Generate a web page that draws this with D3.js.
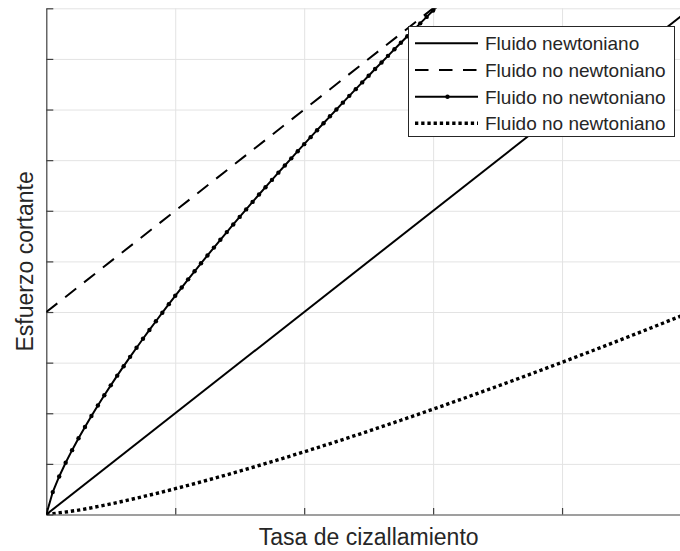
<!DOCTYPE html>
<html>
<head>
<meta charset="utf-8">
<script src="https://cdn.jsdelivr.net/npm/d3@7"></script>
<style>
  html, body { margin: 0; padding: 0; background: #ffffff; }
  svg { display: block; }
  text { font-family: "Liberation Sans", Arial, Helvetica, sans-serif; fill: #262626; }
</style>
</head>
<body>
<svg id="chart" width="680" height="551"></svg>
<script>
// ---------- data ----------
const xTicks = [0, 1, 2, 3, 4, 5];
const yTicks = [0, 1, 2, 3, 4, 5, 6, 7, 8, 9, 10];

const gammaNewton = [0, 5];
const tauNewton = [0, 10];

const gammaBingham = [0, 5];
const tauBingham = [4, 14];

const gammaPseudo = [0, 0.05, 0.10, 0.15, 0.20, 0.25, 0.30, 0.35, 0.40, 0.45, 0.50,
  0.55, 0.60, 0.65, 0.70, 0.75, 0.80, 0.85, 0.90, 0.95, 1.00,
  1.05, 1.10, 1.15, 1.20, 1.25, 1.30, 1.35, 1.40, 1.45, 1.50,
  1.55, 1.60, 1.65, 1.70, 1.75, 1.80, 1.85, 1.90, 1.95, 2.00,
  2.05, 2.10, 2.15, 2.20, 2.25, 2.30, 2.35, 2.40, 2.45, 2.50,
  2.55, 2.60, 2.65, 2.70, 2.75, 2.80, 2.85, 2.90, 2.95, 3.00, 3.05];
const tauPseudo = [0, 0.443, 0.751, 1.022, 1.271, 1.506, 1.730, 1.945, 2.153, 2.355, 2.551,
  2.743, 2.930, 3.114, 3.294, 3.472, 3.646, 3.818, 3.987, 4.155, 4.320,
  4.483, 4.645, 4.804, 4.962, 5.118, 5.273, 5.427, 5.579, 5.730, 5.879,
  6.027, 6.175, 6.321, 6.466, 6.610, 6.753, 6.895, 7.036, 7.177, 7.316,
  7.455, 7.592, 7.729, 7.866, 8.001, 8.136, 8.270, 8.403, 8.536, 8.668,
  8.800, 8.930, 9.061, 9.190, 9.319, 9.448, 9.576, 9.703, 9.830, 9.956, 10.082];

const gammaDilatant = [0, 0.25, 0.5, 0.75, 1.0, 1.25, 1.5, 1.75, 2.0, 2.25, 2.5,
  2.75, 3.0, 3.25, 3.5, 3.75, 4.0, 4.25, 4.5, 4.75, 5.0];
const tauDilatant = [0, 0.087, 0.210, 0.353, 0.510, 0.679, 0.857, 1.044, 1.239, 1.440, 1.648,
  1.862, 2.081, 2.306, 2.535, 2.769, 3.007, 3.250, 3.497, 3.747, 4.002];

const legendLabels = ["Fluido newtoniano", "Fluido no newtoniano", "Fluido no newtoniano", "Fluido no newtoniano"];
const xLabel = "Tasa de cizallamiento";
const yLabel = "Esfuerzo cortante";

// ---------- layout ----------
const mLeft = 46.3, mRight = 691, mTop = 8.3, mBottom = 514.5;
const svg = d3.select("#chart");
const x = d3.scaleLinear().domain([0, 5]).range([mLeft, mRight]);
const y = d3.scaleLinear().domain([0, 10]).range([mBottom, mTop]);

svg.append("defs").append("clipPath").attr("id", "plotclip")
  .append("rect").attr("x", mLeft).attr("y", mTop)
  .attr("width", mRight - mLeft).attr("height", mBottom - mTop);

// grid
const gridX = svg.append("g").attr("transform", `translate(0,${mBottom})`)
  .call(d3.axisBottom(x).tickValues(xTicks.slice(1)).tickSize(-(mBottom - mTop)).tickFormat(""));
gridX.select(".domain").remove();
gridX.selectAll("line").attr("stroke", "#e3e3e3").attr("stroke-width", 1);

const gridY = svg.append("g").attr("transform", `translate(${mLeft},0)`)
  .call(d3.axisLeft(y).tickValues(yTicks.slice(1)).tickSize(-(mRight - mLeft)).tickFormat(""));
gridY.select(".domain").remove();
gridY.selectAll("line").attr("stroke", "#e3e3e3").attr("stroke-width", 1);

// axes
const axX = svg.append("g").attr("transform", `translate(0,${mBottom})`)
  .call(d3.axisBottom(x).tickValues(xTicks).tickSize(-6.5).tickSizeOuter(0).tickFormat(""));
axX.select(".domain").attr("stroke", "#404040").attr("stroke-width", 1.2);
axX.selectAll(".tick line").attr("stroke", "#404040").attr("stroke-width", 1.2);

const axY = svg.append("g").attr("transform", `translate(${mLeft},0)`)
  .call(d3.axisLeft(y).tickValues(yTicks).tickSize(-7).tickSizeOuter(0).tickFormat(""));
axY.select(".domain").attr("stroke", "#404040").attr("stroke-width", 1.2);
axY.selectAll(".tick line").attr("stroke", "#404040").attr("stroke-width", 1.2);

// series
const plot = svg.append("g").attr("clip-path", "url(#plotclip)");
const lineGen = d3.line().x(d => x(d[0])).y(d => y(d[1]));
const smoothGen = d3.line().x(d => x(d[0])).y(d => y(d[1])).curve(d3.curveMonotoneX);

const zip = (a, b) => a.map((v, i) => [v, b[i]]);

plot.append("path").datum(zip(gammaNewton, tauNewton))
  .attr("d", lineGen).attr("fill", "none").attr("stroke", "#000").attr("stroke-width", 2);

plot.append("path").datum(zip(gammaBingham, tauBingham))
  .attr("d", lineGen).attr("fill", "none").attr("stroke", "#000").attr("stroke-width", 2)
  .attr("stroke-dasharray", "14,10");

const pseudo = zip(gammaPseudo, tauPseudo);
plot.append("path").datum(pseudo)
  .attr("d", lineGen).attr("fill", "none").attr("stroke", "#000").attr("stroke-width", 2);
plot.selectAll("circle.mk").data(pseudo).enter().append("circle")
  .attr("class", "mk").attr("cx", d => x(d[0])).attr("cy", d => y(d[1]))
  .attr("r", 2.2).attr("fill", "#000");

plot.append("path").datum(zip(gammaDilatant, tauDilatant))
  .attr("d", smoothGen).attr("fill", "none").attr("stroke", "#000").attr("stroke-width", 3.4)
  .attr("stroke-dasharray", "3.3,2.9");

// legend
const lg = svg.append("g");
lg.append("rect").attr("x", 408.5).attr("y", 26.5).attr("width", 266).attr("height", 110)
  .attr("fill", "#fff").attr("stroke", "#262626").attr("stroke-width", 1);
const rowY = [43.3, 70, 96.7, 123.3];
const styles = [
  { w: 2, dash: null, marker: false },
  { w: 2, dash: "13.5,10.5", marker: false },
  { w: 2, dash: null, marker: true },
  { w: 3.4, dash: "3.3,2.9", marker: false }
];
legendLabels.forEach((lab, i) => {
  const s = styles[i];
  const ln = lg.append("line").attr("x1", 415).attr("x2", 478)
    .attr("y1", rowY[i]).attr("y2", rowY[i])
    .attr("stroke", "#000").attr("stroke-width", s.w);
  if (s.dash) ln.attr("stroke-dasharray", s.dash);
  if (s.marker) lg.append("circle").attr("cx", 447.5).attr("cy", rowY[i]).attr("r", 2.2).attr("fill", "#000");
  lg.append("text").attr("x", 485).attr("y", rowY[i]).attr("dy", "0.36em")
    .attr("font-size", 19).text(lab);
});

// axis labels
svg.append("text").attr("x", (mLeft + mRight) / 2).attr("y", 545)
  .attr("text-anchor", "middle").attr("font-size", 23).text(xLabel);
svg.append("text").attr("transform", `translate(33,${(mTop + mBottom) / 2}) rotate(-90)`)
  .attr("text-anchor", "middle").attr("font-size", 23).text(yLabel);
</script>
</body>
</html>
